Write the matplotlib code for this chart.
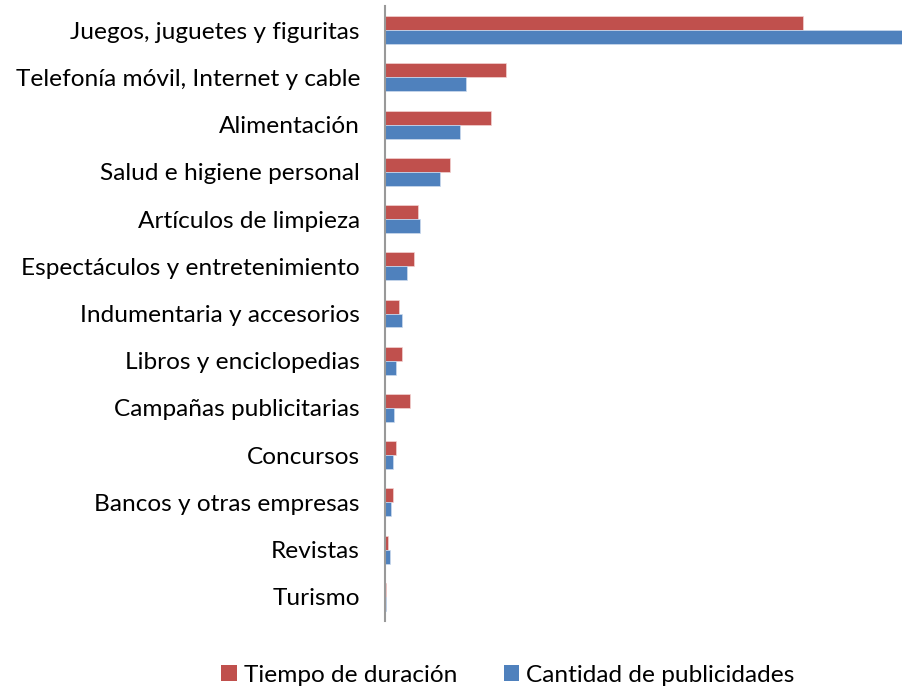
import matplotlib
matplotlib.use("Agg")
import matplotlib.pyplot as plt
import numpy as np
from matplotlib.patches import Patch

categories = ["Juegos, juguetes y figuritas", "Telefonía móvil, Internet y cable",
              "Alimentación", "Salud e higiene personal", "Artículos de limpieza",
              "Espectáculos y entretenimiento", "Indumentaria y accesorios",
              "Libros y enciclopedias", "Campañas publicitarias", "Concursos",
              "Bancos y otras empresas", "Revistas", "Turismo"]
tiempo = [49.3, 14.3, 12.5, 7.7, 3.9, 3.4, 1.7, 2.0, 2.9, 1.3, 1.0, 0.4, 0.15]
cantidad = [61.0, 9.6, 8.9, 6.5, 4.1, 2.6, 2.0, 1.3, 1.1, 1.0, 0.75, 0.55, 0.08]
series_names = ["Tiempo de duración", "Cantidad de publicidades"]
colors = ["#C0504D", "#4F81BD"]

plt.rcParams['font.family'] = ['Lato', 'DejaVu Sans']

fig = plt.figure(figsize=(9.02, 6.87), dpi=100)
ax = fig.add_axes([385/902, 1 - 620.6/687, 1 - 385/902, (620.6 - 6.4)/687])

y = np.arange(len(categories))
h = 0.296
ax.barh(y - h/2, tiempo, height=h, color=colors[0], edgecolor="#f3d3d2", linewidth=0.5)
ax.barh(y + h/2, cantidad, height=h, color=colors[1], edgecolor="#cddbee", linewidth=0.5)

ax.set_ylim(len(categories) - 0.5, -0.5)
ax.set_xlim(0, max(cantidad))
ax.set_yticks(y)
ax.set_yticklabels(categories, fontsize=17.6, color="black")
ax.tick_params(axis='y', length=0, pad=18)
ax.set_xticks([])
for s in ["top", "right", "bottom"]:
    ax.spines[s].set_visible(False)
ax.spines["left"].set_color("#999999")
ax.spines["left"].set_linewidth(1.5)

handles = [Patch(facecolor=c, edgecolor="none") for c in colors]
fig.legend(handles, series_names, loc="center", bbox_to_anchor=(508/902, 1 - 675/687),
           ncol=2, frameon=False, fontsize=17.6, handlelength=0.62, handleheight=0.62,
           handletextpad=0.3, columnspacing=1.9)

fig.savefig("out.png", dpi=100)
